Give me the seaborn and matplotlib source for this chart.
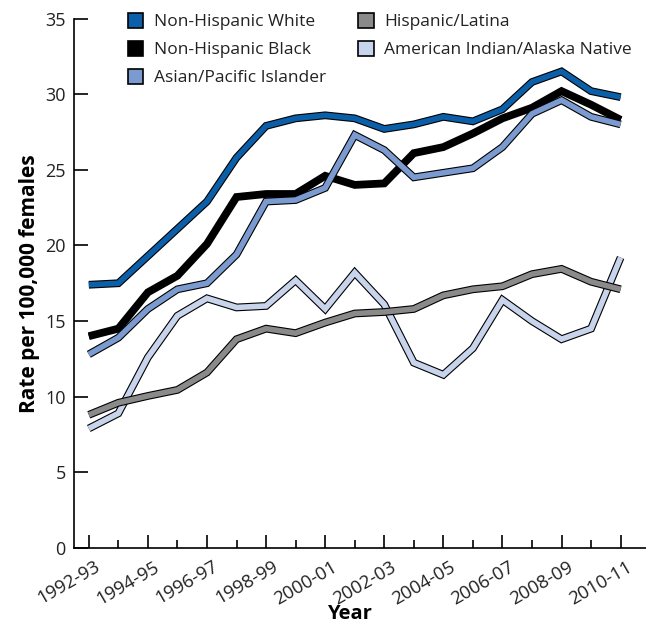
import pandas as pd
import matplotlib
matplotlib.use("Agg")
import matplotlib.pyplot as plt
import matplotlib.patheffects as pe
from matplotlib.patches import Patch
from matplotlib.transforms import ScaledTranslation
import seaborn as sns

### Dados
years = ["1992-93", "1993-94", "1994-95", "1995-96", "1996-97", "1997-98", "1998-99",
         "1999-00", "2000-01", "2001-02", "2002-03", "2003-04", "2004-05", "2005-06",
         "2006-07", "2007-08", "2008-09", "2009-10", "2010-11"]

groups = ["Non-Hispanic White", "Non-Hispanic Black", "Asian/Pacific Islander",
          "Hispanic/Latina", "American Indian/Alaska Native"]

white = [17.4, 17.5, 19.3, 21.1, 22.9, 25.8, 27.9, 28.4, 28.6, 28.4, 27.7, 28.0,
         28.5, 28.2, 29.0, 30.8, 31.5, 30.2, 29.8]
black = [14.0, 14.5, 16.9, 18.0, 20.1, 23.2, 23.4, 23.4, 24.6, 24.0, 24.1, 26.1,
         26.5, 27.4, 28.4, 29.1, 30.2, 29.3, 28.3]
asian = [12.8, 13.9, 15.8, 17.1, 17.5, 19.4, 22.9, 23.0, 23.8, 27.3, 26.3, 24.5,
         24.8, 25.1, 26.5, 28.7, 29.6, 28.5, 28.0]
hispanic = [8.8, 9.6, 10.05, 10.45, 11.6, 13.8, 14.5, 14.2, 14.9, 15.5, 15.6, 15.8,
            16.7, 17.1, 17.3, 18.1, 18.45, 17.6, 17.1]
aian = [7.9, 8.9, 12.6, 15.35, 16.5, 15.9, 16.0, 17.7, 15.8, 18.2, 16.1, 12.25,
        11.45, 13.2, 16.4, 15.0, 13.8, 14.5, 19.2]

cores = ["#0b5ea8", "#000000", "#7b9bd0", "#8a8a8a", "#c8d4eb"]

valores = [white, black, asian, hispanic, aian]
df = pd.concat([pd.DataFrame({"Year": years, "Rate": v, "Group": g})
                for g, v in zip(groups, valores)], ignore_index=True)

plt.rcParams.update({
    'font.family': ['Open Sans', 'DejaVu Sans'],
    'axes.axisbelow': False,
    'xtick.bottom': True, 'ytick.left': True,
    'xtick.direction': 'in', 'ytick.direction': 'in',
    'xtick.major.size': 9.4, 'xtick.minor.size': 5.8, 'ytick.major.size': 10,
    'xtick.major.width': 1.2, 'xtick.minor.width': 1.2, 'ytick.major.width': 1.2,
    'xtick.color': 'black', 'ytick.color': 'black',
    'xtick.labelcolor': '#222222', 'ytick.labelcolor': '#222222',
})

fig = plt.figure(figsize=(6.46, 6.25), dpi=100)
ax = fig.add_axes([0.1146, 0.1232, 0.885, 0.8472])

# ordem de desenho (o último fica por cima)
ordem = ["American Indian/Alaska Native", "Hispanic/Latina", "Non-Hispanic Black",
         "Asian/Pacific Islander", "Non-Hispanic White"]
paleta = dict(zip(groups, cores))
for g in ordem:
    sub = df[df["Group"] == g]
    sns.lineplot(data=sub, x="Year", y="Rate", color=paleta[g], linewidth=4.0,
                 sort=False, ax=ax, legend=False)
    ln = ax.lines[-1]
    ln.set_solid_joinstyle("miter")
    ln.set_solid_capstyle("butt")
    ln.set_path_effects([pe.Stroke(linewidth=5.6, foreground="black",
                                   joinstyle="miter", capstyle="butt"), pe.Normal()])

ax.set_ylim(0, 35)
ax.set_xlim(-0.5, 18.85)
ax.set_yticks(range(0, 36, 5))
ax.set_xticks(range(0, 19, 2))
ax.set_xticklabels(years[::2], rotation=30, ha="right", rotation_mode="anchor", fontsize=13.3)
ax.set_xticks(range(1, 19, 2), minor=True)
ax.tick_params(axis="x", which="major", pad=7)
ax.tick_params(axis="y", which="major", labelsize=13, pad=6)

# desloca os rótulos do eixo x um pouco para a direita
desloc = ScaledTranslation(4.2 / 72, 0, fig.dpi_scale_trans)
for lab in ax.get_xticklabels():
    lab.set_transform(lab.get_transform() + desloc)

for s in ["top", "right"]:
    ax.spines[s].set_visible(False)
for s in ["left", "bottom"]:
    ax.spines[s].set_color("black")
    ax.spines[s].set_linewidth(1.2)

ax.set_xlabel("Year", fontsize=14.5, fontweight="bold")
ax.xaxis.set_label_coords(0.481, -0.106)
ax.set_ylabel("Rate per 100,000 females", fontsize=15, fontweight="bold", labelpad=4)
ax.grid(False)

handles = [Patch(facecolor=c, edgecolor="black", linewidth=1.2) for c in cores]
ax.legend(handles, groups, ncol=2, frameon=False, loc="upper left",
          bbox_to_anchor=(0.082, 1.023), fontsize=12.5, handlelength=0.9,
          handleheight=0.9, handletextpad=0.6, labelspacing=0.62, columnspacing=1.85,
          borderaxespad=0, labelcolor="#222222")

fig.savefig("out.png", dpi=100)
